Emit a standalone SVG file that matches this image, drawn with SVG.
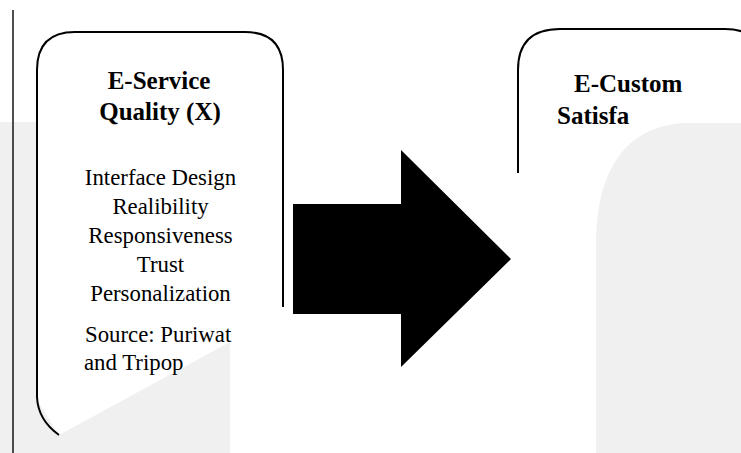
<svg xmlns="http://www.w3.org/2000/svg" width="741" height="453" viewBox="0 0 741 453">
<style>
.bg{fill:#f0f0f0;stroke:none}
.box{fill:none;stroke:#000;stroke-width:2}
.t{font-family:"Liberation Serif","Times New Roman",serif;font-size:22.8px;fill:#000}
.b{font-family:"Liberation Serif","Times New Roman",serif;font-size:25px;font-weight:bold;fill:#000}
</style>
<rect width="741" height="453" fill="#fff"/>
<g id="background">
<rect class="bg" x="0" y="122" width="230" height="331"/>
<path class="bg" d="M596 453 L596 245 C596 165 630 123 690 123 L741 123 L741 453 Z"/>
</g>
<line x1="13" y1="10" x2="13" y2="453" stroke="#222" stroke-width="1.6"/>
<g id="node-eservice">
<path d="M37 70 Q37 32 75 32 L245 32 Q283 32 283 70 L283 307 L230 307 L230 342 L59 435 L37 400 Z" fill="#fff"/>
<path class="box" d="M283 307 L283 70 Q283 32 245 32 L75 32 Q37 32 37 70 L37 397 Q38 420 59 435"/>
<text class="b" x="159" y="89" text-anchor="middle">E-Service</text>
<text class="b" x="160" y="120" text-anchor="middle">Quality (X)</text>
<text class="t" x="160.5" y="185" text-anchor="middle">Interface Design</text>
<text class="t" x="160.5" y="214" text-anchor="middle">Realibility</text>
<text class="t" x="160.5" y="243" text-anchor="middle">Responsiveness</text>
<text class="t" x="160.5" y="272" text-anchor="middle">Trust</text>
<text class="t" x="160.5" y="301" text-anchor="middle">Personalization</text>
<text class="t" x="85" y="342">Source: Puriwat</text>
<text class="t" x="84" y="370">and Tripop</text>
</g>
<g id="node-ecustomer">
<path class="box" d="M518 173 L518 70 Q518 29 560 29 L725 29 Q765 29 765 70"/>
<text class="b" x="574" y="92">E-Custom</text>
<text class="b" x="557" y="124">Satisfa</text>
</g>
<g id="connectors">
<polygon points="293,204 401,204 401,150 511,259 401,367 401,314 293,314" fill="#000"/>
</g>
</svg>
